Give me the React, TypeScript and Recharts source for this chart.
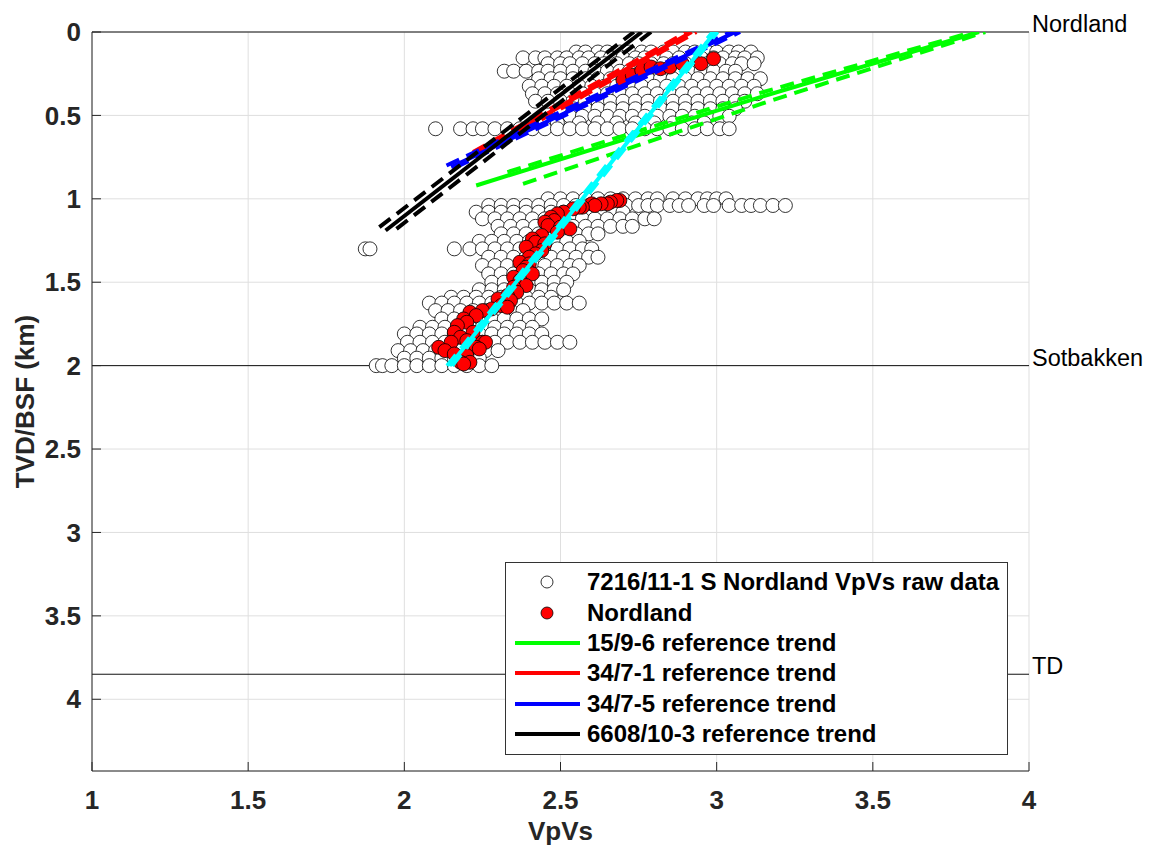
import React from 'react'
import { ScatterChart, Scatter, XAxis, YAxis, CartesianGrid, ReferenceLine, Legend } from 'recharts'

const FONT = '"Liberation Sans", Arial, Helvetica, sans-serif'
const AXIS = '#262626'

const xTicks = [1, 1.5, 2, 2.5, 3, 3.5, 4]
const yTicks = [0, 0.5, 1, 1.5, 2, 2.5, 3, 3.5, 4]

// raw VpVs log, one row per depth step: [depth km, VpVs values]
const rawUpperRows: [number, number[]][] = [
  [0.12, [2.55, 2.58, 2.62, 2.65, 2.69, 2.72, 2.76, 2.79, 2.83, 2.86, 2.9, 2.93, 2.97, 3.0, 3.04, 3.07, 3.11]],
  [0.155, [2.38, 2.42, 2.45, 2.49, 2.52, 2.56, 2.59, 2.63, 2.66, 2.7, 2.74, 2.77, 2.81, 2.84, 2.88, 2.92, 2.95, 2.99, 3.02, 3.06, 3.09, 3.13]],
  [0.19, [2.46, 2.5, 2.53, 2.57, 2.61, 2.64, 2.68, 2.72, 2.75, 2.79, 2.83, 2.86, 2.9, 2.94, 2.97, 3.01, 3.05, 3.08, 3.12]],
  [0.235, [2.32, 2.35, 2.39, 2.43, 2.46, 2.5, 2.54, 2.58, 2.61, 2.65, 2.69, 2.72, 2.76, 2.8, 2.84, 2.88, 2.91, 2.95, 2.99, 3.03, 3.06]],
  [0.28, [2.43, 2.47, 2.5, 2.54, 2.58, 2.62, 2.66, 2.7, 2.74, 2.78, 2.82, 2.86, 2.9, 2.94, 2.98, 3.02, 3.06, 3.1, 3.14]],
  [0.325, [2.4, 2.44, 2.48, 2.52, 2.56, 2.6, 2.64, 2.68, 2.72, 2.76, 2.8, 2.84, 2.88, 2.92, 2.96, 3.0, 3.04, 3.08, 3.12]],
  [0.37, [2.41, 2.45, 2.49, 2.53, 2.57, 2.61, 2.65, 2.69, 2.73, 2.77, 2.81, 2.85, 2.89, 2.93, 2.97, 3.01, 3.05, 3.09, 3.13]],
  [0.415, [2.42, 2.46, 2.5, 2.54, 2.58, 2.62, 2.66, 2.7, 2.74, 2.78, 2.82, 2.86, 2.9, 2.94, 2.98, 3.02, 3.06, 3.09]],
  [0.46, [2.5, 2.54, 2.58, 2.62, 2.66, 2.7, 2.74, 2.78, 2.82, 2.86, 2.9, 2.94, 2.98, 3.02, 3.06]],
  [0.505, [2.53, 2.57, 2.61, 2.65, 2.69, 2.73, 2.77, 2.81, 2.85, 2.89, 2.93, 2.97, 3.01, 3.04]],
  [0.545, [2.45, 2.49, 2.56, 2.62, 2.68, 2.74, 2.8, 2.86, 2.92, 2.96]],
  [0.58, [2.1, 2.18, 2.22, 2.25, 2.29, 2.33, 2.37, 2.41, 2.45, 2.49, 2.53, 2.57, 2.61, 2.65, 2.69, 2.73, 2.77, 2.81, 2.85, 2.89, 2.93, 2.97, 3.01, 3.04]],
]

const rawLowerRows: [number, number[]][] = [
  [1.0, [2.46, 2.5, 2.54, 2.58, 2.62, 2.66, 2.7, 2.74, 2.78, 2.81, 2.86, 2.9, 2.94, 2.97, 3.0, 3.03]],
  [1.04, [2.27, 2.31, 2.35, 2.39, 2.43, 2.47, 2.51, 2.55, 2.59, 2.63, 2.67, 2.71, 2.75, 2.78, 2.81, 2.85, 2.88, 2.91, 2.96, 2.99, 3.04, 3.08, 3.11, 3.14, 3.18, 3.22]],
  [1.08, [2.23, 2.27, 2.31, 2.35, 2.39, 2.43, 2.47, 2.51, 2.55, 2.59, 2.63, 2.67, 2.7]],
  [1.12, [2.25, 2.29, 2.33, 2.37, 2.41, 2.45, 2.49, 2.53, 2.57, 2.61, 2.65, 2.69, 2.73, 2.77, 2.8]],
  [1.165, [2.3, 2.34, 2.38, 2.42, 2.46, 2.5, 2.54, 2.58, 2.62, 2.66, 2.7, 2.73]],
  [1.21, [2.31, 2.35, 2.39, 2.43, 2.47, 2.51, 2.55, 2.59, 2.62]],
  [1.255, [2.24, 2.28, 2.32, 2.36, 2.4, 2.44, 2.48, 2.52, 2.56]],
  [1.3, [1.875, 1.89, 2.16, 2.21, 2.25, 2.29, 2.33, 2.37, 2.41, 2.45, 2.49, 2.53, 2.57, 2.6]],
  [1.35, [2.27, 2.31, 2.35, 2.39, 2.43, 2.47, 2.51, 2.55, 2.59, 2.62]],
  [1.4, [2.25, 2.29, 2.33, 2.37, 2.41, 2.45, 2.49, 2.53, 2.56]],
  [1.45, [2.27, 2.31, 2.35, 2.39, 2.43, 2.47, 2.51, 2.54]],
  [1.5, [2.28, 2.32, 2.36, 2.4, 2.44, 2.48, 2.52]],
  [1.545, [2.24, 2.28, 2.32, 2.36, 2.4, 2.44, 2.48, 2.51]],
  [1.59, [2.15, 2.19, 2.23, 2.27, 2.31, 2.35, 2.39, 2.43, 2.47]],
  [1.625, [2.08, 2.12, 2.16, 2.2, 2.24, 2.28, 2.32, 2.36, 2.4, 2.44, 2.48, 2.52, 2.56]],
  [1.67, [2.1, 2.14, 2.18, 2.22, 2.26, 2.3, 2.34, 2.38]],
  [1.72, [2.12, 2.16, 2.2, 2.24, 2.28, 2.32, 2.36, 2.4, 2.44]],
  [1.77, [2.05, 2.09, 2.13, 2.17, 2.21, 2.25, 2.29, 2.33, 2.37, 2.41]],
  [1.81, [2.0, 2.04, 2.08, 2.12, 2.16, 2.2, 2.24, 2.28, 2.32, 2.36, 2.4, 2.44]],
  [1.86, [2.01, 2.05, 2.09, 2.13, 2.17, 2.21, 2.25, 2.29, 2.33, 2.37, 2.41, 2.45, 2.49, 2.53]],
  [1.91, [1.98, 2.02, 2.06, 2.1, 2.14, 2.18, 2.22, 2.26, 2.3]],
  [1.955, [2.0, 2.04, 2.08, 2.12, 2.16, 2.2, 2.24]],
  [2.0, [1.91, 1.93, 1.96, 2.0, 2.04, 2.08, 2.12, 2.16, 2.2, 2.24, 2.28]],
]

// Nordland picks [VpVs, depth]
const nordlandPicks: [number, number][] = [
  [2.7, 0.29], [2.73, 0.26], [2.76, 0.23], [2.79, 0.21], [2.82, 0.22], [2.85, 0.21], [2.89, 0.19], [2.95, 0.19], [2.99, 0.16],
  [2.69, 1.01], [2.68, 1.01], [2.66, 1.02], [2.65, 1.03], [2.63, 1.03], [2.6, 1.03], [2.61, 1.04], [2.57, 1.05], [2.56, 1.05],
  [2.54, 1.06], [2.51, 1.08], [2.49, 1.09], [2.47, 1.11], [2.48, 1.13], [2.45, 1.14], [2.46, 1.16], [2.5, 1.17], [2.53, 1.18],
  [2.49, 1.2], [2.44, 1.22], [2.41, 1.24], [2.42, 1.26], [2.45, 1.27], [2.39, 1.29], [2.44, 1.31], [2.42, 1.33], [2.4, 1.35],
  [2.37, 1.38], [2.4, 1.39], [2.39, 1.41], [2.38, 1.43], [2.41, 1.45], [2.35, 1.47], [2.37, 1.49], [2.39, 1.52], [2.35, 1.53],
  [2.36, 1.56], [2.33, 1.58], [2.3, 1.6], [2.34, 1.61], [2.31, 1.64], [2.33, 1.65], [2.28, 1.66], [2.25, 1.67], [2.21, 1.68],
  [2.23, 1.7], [2.19, 1.72], [2.2, 1.74], [2.17, 1.76], [2.16, 1.8], [2.22, 1.8], [2.18, 1.83], [2.2, 1.85], [2.25, 1.86],
  [2.26, 1.86], [2.15, 1.86], [2.23, 1.89], [2.11, 1.89], [2.24, 1.9], [2.13, 1.91], [2.16, 1.93], [2.2, 1.94],
  [2.18, 1.98], [2.21, 1.98], [2.19, 1.99],
]

// reference trends [VpVs, depth]: centre line and the two dashed bounds
const trend15_9_6 = [[2.23, 0.92], [3.14, 0.39], [3.84, 0]]
const trend15_9_6Hi = [[2.33, 0.84], [3.14, 0.365], [3.82, 0]]
const trend15_9_6Lo = [[2.38, 0.91], [3.16, 0.42], [3.86, 0]]
const trend34_7_1 = [[2.24, 0.72], [2.92, 0]]
const trend34_7_1Hi = [[2.22, 0.72], [2.905, 0]]
const trend34_7_1Lo = [[2.255, 0.72], [2.935, 0]]
const trend34_7_5 = [[2.15, 0.81], [3.06, 0]]
const trend34_7_5Hi = [[2.135, 0.8], [3.045, 0]]
const trend34_7_5Lo = [[2.165, 0.81], [3.075, 0]]
const trend6608 = [[1.94, 1.19], [2.76, 0]]
const trend6608Hi = [[1.92, 1.17], [2.735, 0]]
const trend6608Lo = [[1.975, 1.18], [2.79, 0]]
const trendNordland = [[2.145, 2.0], [2.995, 0]]
const trendNordlandHi = [[2.137, 2.0], [2.987, 0]]
const trendNordlandLo = [[2.153, 2.0], [3.003, 0]]

const horizons = [
  { name: 'Nordland', depth: 0 },
  { name: 'Sotbakken', depth: 2.0 },
  { name: 'TD', depth: 3.85 },
]

const legendLabels = [
  '7216/11-1 S Nordland VpVs raw data',
  'Nordland',
  '15/9-6 reference trend',
  '34/7-1 reference trend',
  '34/7-5 reference trend',
  '6608/10-3 reference trend',
]
const legendColors = ['#ffffff', '#ff0000', '#00ff00', '#ff0000', '#0000ff', '#000000']

const rows = (r: [number, number[]][]) => r.flatMap(([d, vs]) => vs.map(v => ({ x: v, y: d })))
const pts = (a: number[][]) => a.map(([x, y]) => ({ x, y }))

const rawData = [...rows(rawUpperRows), ...rows(rawLowerRows)]
const nordData = pts(nordlandPicks)

const OpenDot = (p: any) => <circle cx={p.cx} cy={p.cy} r={7} fill="#fff" stroke="#000" strokeWidth={0.8} />
const RedDot = (p: any) => <circle cx={p.cx} cy={p.cy} r={7} fill="#ff0000" stroke="#000" strokeWidth={0.8} />
const NoDot = () => <g />

function trendSeries(key: string, color: string, centre: number[][], hi: number[][], lo: number[][]) {
  return [
    <Scatter key={key + 'c'} data={pts(centre)} shape={NoDot} line={{ stroke: color, strokeWidth: 4 }} isAnimationActive={false} legendType="none" />,
    <Scatter key={key + 'h'} data={pts(hi)} shape={NoDot} line={{ stroke: color, strokeWidth: 4, strokeDasharray: '14 8' }} isAnimationActive={false} legendType="none" />,
    <Scatter key={key + 'l'} data={pts(lo)} shape={NoDot} line={{ stroke: color, strokeWidth: 4, strokeDasharray: '14 8' }} isAnimationActive={false} legendType="none" />,
  ]
}

const sideLabel = (text: string) => (props: any) => {
  const vb = props.viewBox || {}
  return (
    <text x={vb.x + vb.width + 3} y={vb.y} fontSize={23.5} fontFamily={FONT} fill="#000">{text}</text>
  )
}

const yLabel = (props: any) => {
  const vb = props.viewBox || {}
  return (
    <text
      transform={`translate(${vb.x + 2}, ${vb.y + vb.height / 2}) rotate(-90)`}
      textAnchor="middle" fontSize={26} fontWeight="bold" fontFamily={FONT} fill={AXIS}
    >TVD/BSF (km)</text>
  )
}

function LegendBox() {
  return (
    <div style={{
      width: 501, height: 187, border: '1px solid #333', background: '#fff', paddingTop: 4,
      fontFamily: FONT, fontWeight: 'bold', fontSize: 24, color: '#000',
    }}>
      {legendLabels.map((lab, i) => (
        <div key={lab} style={{ display: 'flex', alignItems: 'center', height: 30.4 }}>
          <svg width={81} height={20} style={{ flex: 'none' }}>
            {i === 0 && <circle cx={41} cy={10} r={6} fill="#fff" stroke="#000" strokeWidth={0.8} />}
            {i === 1 && <circle cx={41} cy={10} r={6} fill="#ff0000" stroke="#000" strokeWidth={0.8} />}
            {i > 1 && <line x1={9} x2={74} y1={10} y2={10} stroke={legendColors[i]} strokeWidth={4} />}
          </svg>
          <span style={{ whiteSpace: 'nowrap' }}>{lab}</span>
        </div>
      ))}
    </div>
  )
}

export default function App() {
  const tickStyle = { fontSize: 26, fontWeight: 'bold', fill: AXIS, fontFamily: FONT }
  return (
    <div style={{ position: 'absolute', left: 0, top: 0, width: 1152, height: 850, background: '#fff' }}>
      <ScatterChart width={1152} height={850} margin={{ top: 32, right: 123, bottom: 0, left: 32 }}>
        <CartesianGrid stroke="#dfdfdf" strokeWidth={1} />
        <XAxis
          type="number" dataKey="x" domain={[1, 4]} ticks={xTicks} allowDataOverflow
          height={79} tickSize={-9} tickMargin={29} tick={tickStyle}
          axisLine={{ stroke: AXIS }} tickLine={{ stroke: AXIS }}
          label={{ value: 'VpVs', position: 'insideBottom', offset: 10, fontSize: 26, fontWeight: 'bold', fill: AXIS, fontFamily: FONT }}
        />
        <XAxis
          xAxisId="top" orientation="top" type="number" domain={[1, 4]} ticks={xTicks} allowDataOverflow
          height={0} tickSize={-9} tick={false} axisLine={{ stroke: AXIS }} tickLine={{ stroke: AXIS }}
        />
        <YAxis
          type="number" dataKey="y" domain={[0, 4.43]} ticks={yTicks} reversed allowDataOverflow
          width={60} tickSize={-9} tickMargin={20} tick={tickStyle}
          axisLine={{ stroke: AXIS }} tickLine={{ stroke: AXIS }} label={yLabel}
        />
        <YAxis
          yAxisId="r" orientation="right" type="number" domain={[0, 4.43]} ticks={yTicks} reversed allowDataOverflow
          width={0} tickSize={-9} tick={false} axisLine={{ stroke: AXIS }} tickLine={{ stroke: AXIS }}
        />
        {horizons.map(h => (
          <ReferenceLine key={h.name} y={h.depth} stroke="#111" strokeWidth={1} label={sideLabel(h.name)} />
        ))}
        <Scatter data={rawData} shape={OpenDot} isAnimationActive={false} legendType="none" />
        <Scatter data={nordData} shape={RedDot} isAnimationActive={false} legendType="none" />
        {trendSeries('g', '#00ff00', trend15_9_6, trend15_9_6Hi, trend15_9_6Lo)}
        {trendSeries('r', '#ff0000', trend34_7_1, trend34_7_1Hi, trend34_7_1Lo)}
        {trendSeries('b', '#0000ff', trend34_7_5, trend34_7_5Hi, trend34_7_5Lo)}
        {trendSeries('k', '#000000', trend6608, trend6608Hi, trend6608Lo)}
        {trendSeries('c', '#00ffff', trendNordland, trendNordlandHi, trendNordlandLo)}
        <Legend
          layout="vertical" align="center" verticalAlign="middle"
          wrapperStyle={{ left: 505, top: 562, width: 503, height: 189 }}
          content={() => <LegendBox />}
        />
      </ScatterChart>
    </div>
  )
}
